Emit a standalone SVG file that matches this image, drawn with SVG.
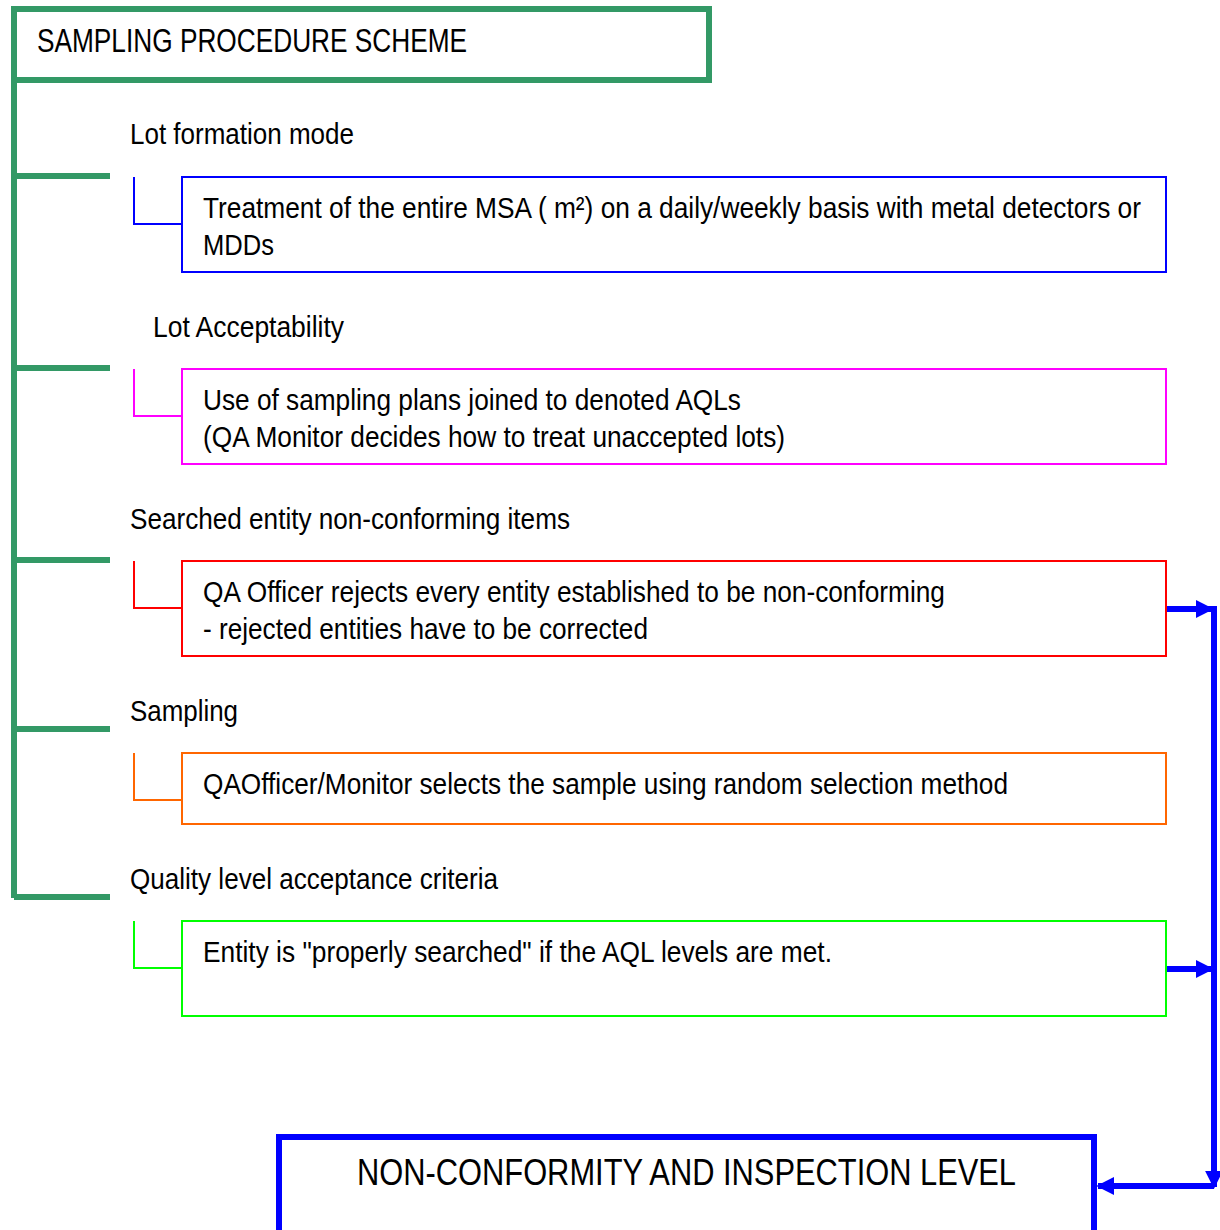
<svg xmlns="http://www.w3.org/2000/svg" width="1220" height="1230" viewBox="0 0 1220 1230">
<style>
text{font-family:"Liberation Sans",Arial,sans-serif;fill:#000;}
.t{font-size:30px;}
.h{font-size:33px;}
.b{font-size:37px;}
.tree{stroke:#339966;stroke-width:6;fill:none;}
.box{fill:#fff;stroke-width:2;}
.con{fill:none;stroke-width:2;}
.arr{stroke:#0000ff;stroke-width:6;fill:none;}
</style>
<defs>
<marker id="ah" viewBox="0 0 10 10" refX="9" refY="5" markerWidth="3" markerHeight="3" orient="auto" markerUnits="strokeWidth">
<path d="M0,0 L10,5 L0,10 z" fill="#0000ff"/>
</marker>
</defs>
<rect width="1220" height="1230" fill="#fff"/>

<g id="title">
<rect x="14" y="9" width="695" height="71" fill="#fff" stroke="#339966" stroke-width="6"/>
<text class="h" transform="translate(37,52) scale(0.85,1)" textLength="506" lengthAdjust="spacingAndGlyphs">SAMPLING PROCEDURE SCHEME</text>
</g>

<g id="tree">
<path class="tree" d="M14,9 V898 M14,176 H110 M14,368 H110 M14,560 H110 M14,729 H110 M14,897 H110"/>
</g>

<g id="labels">
<text class="t" transform="translate(130,144) scale(0.85,1)" textLength="263.5" lengthAdjust="spacingAndGlyphs">Lot formation mode</text>
<text class="t" transform="translate(153,337) scale(0.85,1)" textLength="224.7" lengthAdjust="spacingAndGlyphs">Lot Acceptability</text>
<text class="t" transform="translate(130,529) scale(0.85,1)" textLength="517.6" lengthAdjust="spacingAndGlyphs">Searched entity non-conforming items</text>
<text class="t" transform="translate(130,721) scale(0.85,1)" textLength="127.1" lengthAdjust="spacingAndGlyphs">Sampling</text>
<text class="t" transform="translate(130,889) scale(0.85,1)" textLength="432.9" lengthAdjust="spacingAndGlyphs">Quality level acceptance criteria</text>
</g>

<g id="node1">
<path class="con" stroke="#0000ff" d="M134,177 V224 H182"/>
<rect class="box" stroke="#0000ff" x="182" y="177" width="984" height="95"/>
<text class="t" transform="translate(203,218) scale(0.85,1)" textLength="1103.5" lengthAdjust="spacingAndGlyphs">Treatment of the entire MSA ( m²) on a daily/weekly basis with metal detectors or</text>
<text class="t" transform="translate(203,255) scale(0.85,1)" textLength="83.5" lengthAdjust="spacingAndGlyphs">MDDs</text>
</g>

<g id="node2">
<path class="con" stroke="#ff00ff" d="M134,369 V416 H182"/>
<rect class="box" stroke="#ff00ff" x="182" y="369" width="984" height="95"/>
<text class="t" transform="translate(203,410) scale(0.85,1)" textLength="632.9" lengthAdjust="spacingAndGlyphs">Use of sampling plans joined to denoted AQLs</text>
<text class="t" transform="translate(203,447) scale(0.85,1)" textLength="684.7" lengthAdjust="spacingAndGlyphs">(QA Monitor decides how to treat unaccepted lots)</text>
</g>

<g id="node3">
<path class="con" stroke="#ff0000" d="M134,561 V608 H182"/>
<rect class="box" stroke="#ff0000" x="182" y="561" width="984" height="95"/>
<text class="t" transform="translate(203,602) scale(0.85,1)" textLength="872.9" lengthAdjust="spacingAndGlyphs">QA Officer rejects every entity established to be non-conforming</text>
<text class="t" transform="translate(203,639) scale(0.85,1)" textLength="523.5" lengthAdjust="spacingAndGlyphs">- rejected entities have to be corrected</text>
</g>

<g id="node4">
<path class="con" stroke="#ff6600" d="M134,753 V800 H182"/>
<rect class="box" stroke="#ff6600" x="182" y="753" width="984" height="71"/>
<text class="t" transform="translate(203,794) scale(0.85,1)" textLength="947.1" lengthAdjust="spacingAndGlyphs">QAOfficer/Monitor selects the sample using random selection method</text>
</g>

<g id="node5">
<path class="con" stroke="#00ff00" d="M134,921 V968 H182"/>
<rect class="box" stroke="#00ff00" x="182" y="921" width="984" height="95"/>
<text class="t" transform="translate(203,962) scale(0.85,1)" textLength="740" lengthAdjust="spacingAndGlyphs">Entity is "properly searched" if the AQL levels are met.</text>
</g>

<g id="node6">
<rect x="279" y="1137" width="815" height="110" fill="#fff" stroke="#0000ff" stroke-width="6"/>
<text class="b" transform="translate(357,1185) scale(0.85,1)" textLength="775.3" lengthAdjust="spacingAndGlyphs">NON-CONFORMITY AND INSPECTION LEVEL</text>
</g>

<g id="connectors">
<line class="arr" x1="1167" y1="609" x2="1212" y2="609" marker-end="url(#ah)"/>
<line class="arr" x1="1167" y1="969" x2="1212" y2="969" marker-end="url(#ah)"/>
<line class="arr" x1="1214" y1="606" x2="1214" y2="1187" marker-end="url(#ah)"/>
<line class="arr" x1="1214" y1="1186" x2="1098" y2="1186" marker-end="url(#ah)"/>
</g>
</svg>
